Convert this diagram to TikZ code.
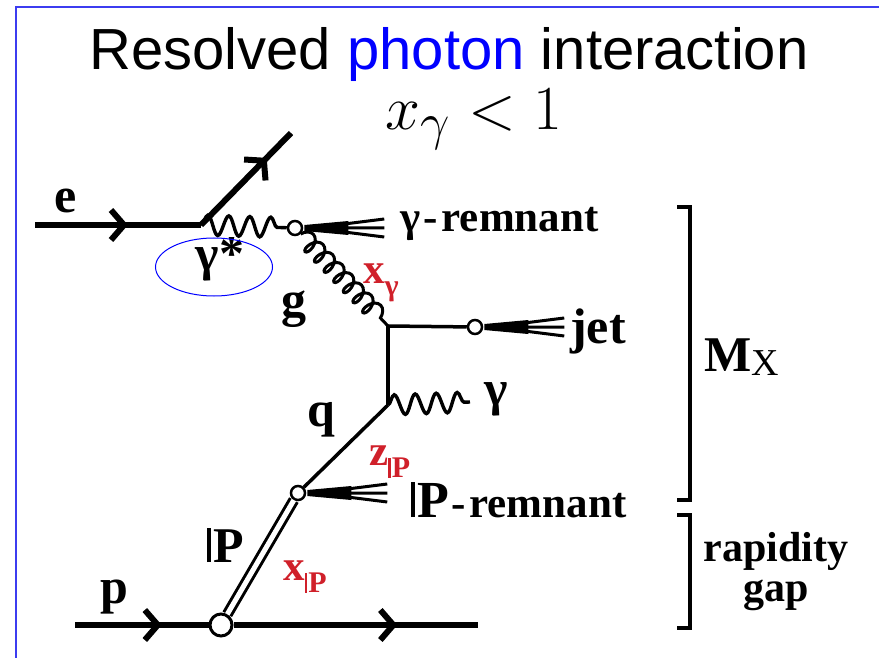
\documentclass[tikz,border=0pt]{standalone}
\usepackage{fontspec}
\setmainfont{Liberation Serif}
\newfontfamily\titlefont{Liberation Sans}
\usetikzlibrary{arrows.meta, decorations.pathmorphing, decorations.markings, shapes.geometric}
\definecolor{phblue}{HTML}{0000FF}
\definecolor{frblue}{HTML}{3C3CF0}
\definecolor{phred}{HTML}{D0202A}
\newcommand{\Pom}{\rule{0.08em}{0.68em}\kern0.04em P}
\newcommand{\lowsub}[1]{\raisebox{-0.3em}{\fontsize{30}{30}\selectfont #1}}

\begin{document}
\begin{tikzpicture}[x=1pt, y=-1pt,
  lab/.style={font=\fontsize{50}{52}\selectfont\bfseries, inner sep=0pt},
  rem/.style={lab, font=\fontsize{43}{44}\selectfont\bfseries},
  kin/.style={rem, text=phred},
  fermion/.style={line width=6pt},
  quark/.style={line width=3.5pt},
  photon/.style={line width=3.4pt, decorate,
                 decoration={snake, segment length=21pt, amplitude=10pt}},
  gluon/.style={line width=3pt, decorate,
                decoration={coil, aspect=0.6, segment length=14pt, amplitude=9pt}},
  midarr/.style={postaction={decorate, decoration={markings, mark=at position #1 with
                 {\arrow{Straight Barb[length=13pt, width=30pt, line width=6pt]}}}}},
  blob/.style={circle, draw, fill=white, line width=2.5pt, inner sep=0pt, minimum size=14pt},
  bigblob/.style={blob, line width=3pt, minimum size=22pt},
  brak/.style={line width=4pt},
  fan/.pic={
    \fill (0,-3) -- (44,-7) -- (44,7) -- (0,3) -- cycle;
    \draw[line width=3pt] (40,-4) -- (80,-9) (40,0) -- (80,0) (40,4) -- (80,9);
  }]
  \useasboundingbox (0,0) rectangle (879,658);
  \draw[frblue, line width=1.2pt] (16,658) -- (16,7) -- (879,7);

  % title
  \node[anchor=base, inner sep=0pt, font=\titlefont\fontsize{58}{62}\selectfont] (title)
    at (449,70) {Resolved \textcolor{phblue}{photon} interaction};
  \node[anchor=base, inner sep=0pt, font=\Huge, scale=2.52] (xgam)
    at (474,130) {$x_\gamma < 1$};

  % vertices
  \coordinate (ein) at (35,225);
  \coordinate (ev) at (201,225);
  \coordinate (eout) at (291,133);
  \node[blob] (gb) at (295,228) {};
  \coordinate (gv) at (388,326);
  \node[blob] (jb) at (475,327) {};
  \coordinate (qv) at (388,405);
  \coordinate (gend) at (470,402);
  \node[blob] (pb) at (298,493) {};
  \node[bigblob] (pv) at (221,625) {};
  \coordinate (pin) at (75,625);
  \coordinate (pout) at (478,625);

  % lines
  \draw[fermion, midarr=0.56] (ein) -- (ev);
  \draw[fermion, midarr=0.73] (ev) -- (eout);
  \draw[photon] (ev) -- (gb);
  \draw[gluon] (gb) -- (gv);
  \draw[quark] (gv) -- (jb);
  \draw[quark] (gv) -- (qv);
  \draw[photon] (qv) -- (gend);
  \draw[quark] (qv) -- (pb);
  \draw[line width=3pt, double distance=5pt] (pv) -- (pb);
  \draw[fermion, midarr=0.65] (pin) -- (pv);
  \draw[fermion, midarr=0.67] (pv) -- (pout);

  % remnants and jet
  \pic at ([xshift=1pt]gb.east) {fan};
  \pic at ([xshift=1pt]jb.east) {fan};
  \pic at ([xshift=1pt]pb.east) {fan};

  % labels
  \node[lab, anchor=base] (elab) at (66,212) {e};
  \node[rem, anchor=base west] (grlab) at (400,232) {γ\kern3pt-\kern4pt remnant};
  \node[lab, anchor=base] (gslab) at (220,270) {γ*};
  \node[draw=phblue, ellipse, line width=1pt, minimum width=117pt, minimum height=58pt]
    (gsring) at (214,267) {};
  \node[kin, anchor=base west] (xglab) at (363,283) {x\lowsub{γ}};
  \node[lab, anchor=base] (glab) at (294,316) {g};
  \node[lab, anchor=base west] (jetlab) at (570,343) {jet};
  \node[lab, anchor=base west] (gamlab) at (484,405) {γ};
  \node[lab, anchor=base] (qlab) at (321,426) {q};
  \node[kin, anchor=base west] (zlab) at (369,465) {z\lowsub{\Pom}};
  \node[rem, anchor=base west] (prlab) at (411,517)
    {{\fontsize{52}{52}\selectfont\Pom}\kern2pt-\kern4pt remnant};
  \node[lab, anchor=base west] (pomlab) at (207,562) {\Pom};
  \node[kin, anchor=base west] (xplab) at (283,580) {x\lowsub{\Pom}};
  \node[lab, anchor=base] (plab) at (114,603) {p};
  \node[lab, anchor=base west] (mxlab) at (704,371)
    {M\raisebox{-0.08em}{\mdseries\fontsize{38}{38}\selectfont X}};
  \node[rem, align=center, font=\fontsize{42}{40}\selectfont\bfseries] (gaplab)
    at (776,572) {rapidity\\gap};

  % brackets
  \draw[brak] (677,207) -- (690,207) -- (690,500) -- (677,500);
  \draw[brak] (677,515) -- (690,515) -- (690,628) -- (677,628);
\end{tikzpicture}
\end{document}
